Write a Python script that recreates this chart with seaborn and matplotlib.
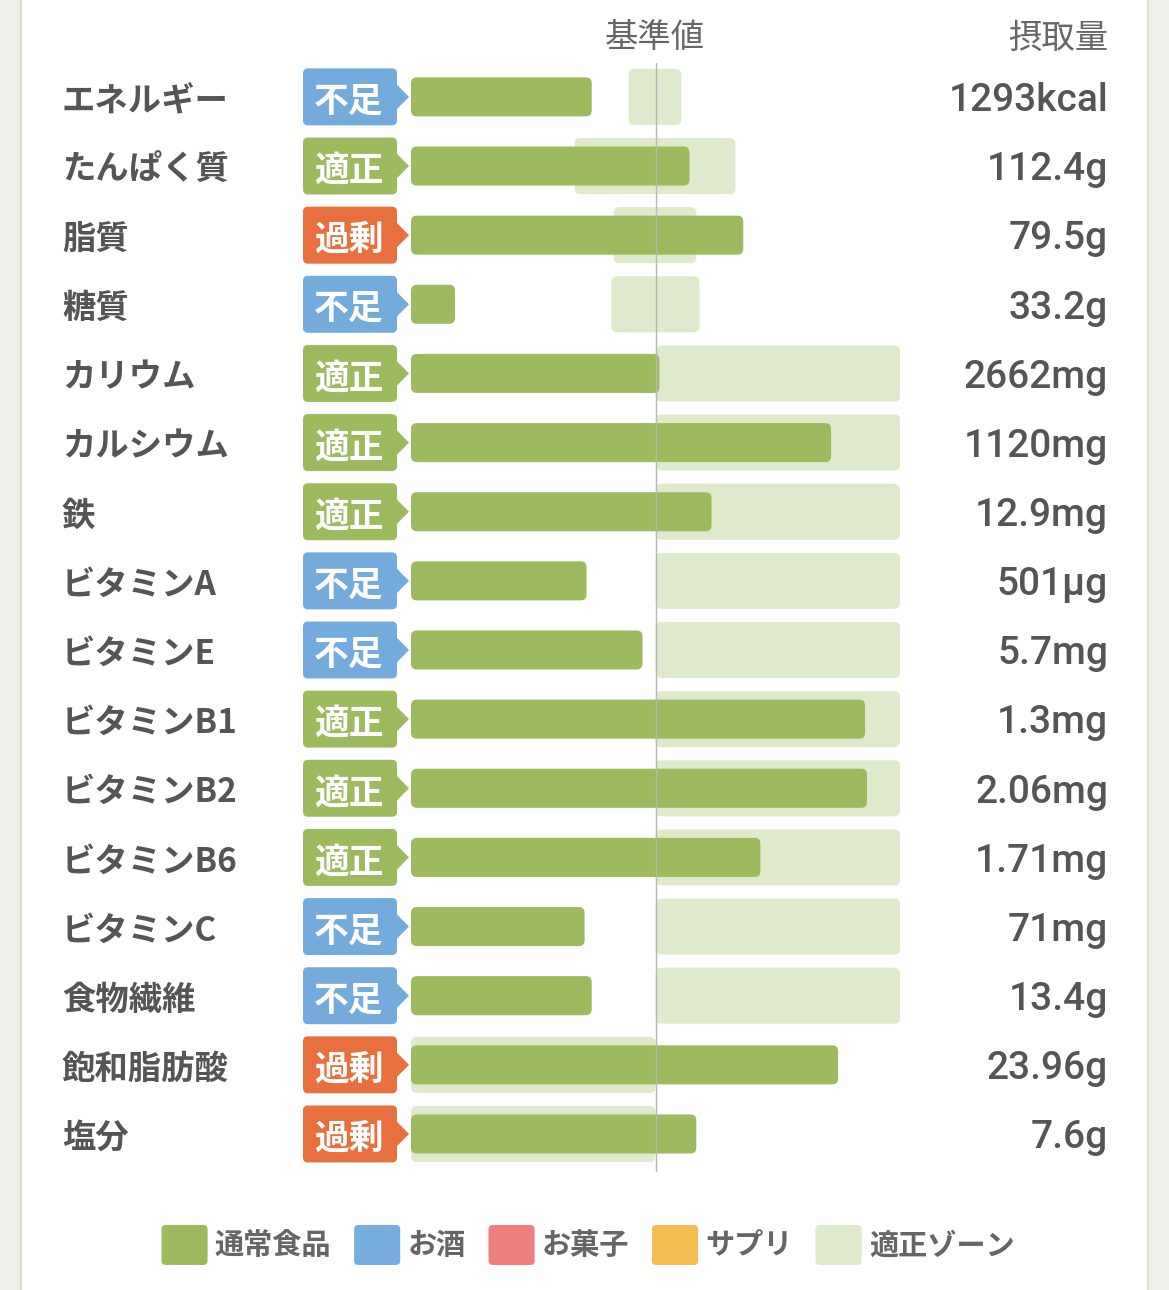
import matplotlib
matplotlib.use("Agg")
import matplotlib.pyplot as plt
import matplotlib.transforms as mtransforms
from matplotlib.patches import FancyBboxPatch, Polygon, Rectangle, Patch
from matplotlib.legend_handler import HandlerPatch
import pandas as pd
import seaborn as sns

# values, in % of the reference value (基準値 = 100)
nutrients = ["エネルギー", "たんぱく質", "脂質", "糖質", "カリウム", "カルシウム", "鉄",
             "ビタミンA", "ビタミンE", "ビタミンB1", "ビタミンB2", "ビタミンB6",
             "ビタミンC", "食物繊維", "飽和脂肪酸", "塩分"]
intake_pct = [73.9, 113.9, 135.9, 18.0, 101.6, 171.8, 122.9, 71.8,
              94.7, 185.7, 186.5, 142.9, 71.0, 73.9, 174.7, 116.7]
zone_low = [89.0, 66.9, 82.9, 82.0, 100, 100, 100, 100,
            100, 100, 100, 100, 100, 100, 0, 0]
zone_high = [110.6, 132.7, 116.7, 118.0, 200, 200, 200, 200,
             200, 200, 200, 200, 200, 200, 100, 100]
status = ["不足", "適正", "過剰", "不足", "適正", "適正", "適正", "不足",
          "不足", "適正", "適正", "適正", "不足", "不足", "過剰", "過剰"]
intake_text = ["1293kcal", "112.4g", "79.5g", "33.2g", "2662mg", "1120mg", "12.9mg", "501µg",
               "5.7mg", "1.3mg", "2.06mg", "1.71mg", "71mg", "13.4g", "23.96g", "7.6g"]
legend_labels = ["通常食品", "お酒", "お菓子", "サプリ", "適正ゾーン"]
legend_colors = ["#9dbb5e", "#78ade0", "#ee7f7c", "#f3bd52", "#dfe9cc"]

GREEN = "#9dbb5e"
ZONE = "#dfe9cc"
status_colors = {"不足": "#72abdc", "適正": "#9dbb5e", "過剰": "#e8703f"}
CJK = ["Noto Sans CJK JP", "DejaVu Sans"]
LATIN = ["Roboto", "DejaVu Sans"]

W, H = 1169, 1290
ROW_PX = 69.13
X_PX = 489 / 200
TXT_DY = 0.065  # nudge texts down a little so they sit in the row middle

sns.set_theme(style="white")
plt.rcParams["font.family"] = CJK

df = pd.DataFrame({"nutrient": nutrients, "pct": intake_pct})

fig = plt.figure(figsize=(W / 100, H / 100), dpi=100)
fig.patch.set_facecolor("#efefe9")

# overlay in pixel units for the card, texts and badges
overlay = fig.add_axes([0, 0, 1, 1], zorder=0)
overlay.set_xlim(0, W)
overlay.set_ylim(H, 0)
overlay.axis("off")
overlay.add_patch(Rectangle((21, -5), 1127, H + 10, fc="white", ec="#deded6", lw=1.5))

ax = fig.add_axes([411 / W, (H - 1172) / H, 489 / W, (1172 - 63) / H], zorder=1)
ax.patch.set_visible(False)

sns.barplot(data=df, x="pct", y="nutrient", orient="h", color=GREEN,
            saturation=1, width=0.565, ax=ax)

aspect = X_PX / ROW_PX
for bar in list(ax.patches):
    x0, y0, w, h = bar.get_x(), bar.get_y(), bar.get_width(), bar.get_height()
    bar.remove()
    ax.add_patch(FancyBboxPatch((x0, y0), w, h,
                                boxstyle="round,pad=0,rounding_size=2.4",
                                mutation_aspect=aspect, fc=GREEN, ec="none", zorder=3))

for i, (lo, hi) in enumerate(zip(zone_low, zone_high)):
    ax.add_patch(FancyBboxPatch((lo, i - 0.405), hi - lo, 0.81,
                                boxstyle="round,pad=0,rounding_size=2.4",
                                mutation_aspect=aspect, fc=ZONE, ec="none", zorder=2))

ax.axvline(100, color="#b8b8b8", lw=1, zorder=4)
ax.set_xlim(0, 200)
ax.set_ylim(15.55, -0.49)
ax.axis("off")

trans = mtransforms.blended_transform_factory(overlay.transData, ax.transData)

for i, (name, st, val) in enumerate(zip(nutrients, status, intake_text)):
    overlay.text(62, i + TXT_DY, name, transform=trans, ha="left", va="center",
                 fontsize=24, fontweight="bold", color="#555555", family=CJK)
    col = status_colors[st]
    overlay.add_patch(FancyBboxPatch((303, i - 0.412), 94, 0.824, transform=trans,
                                     boxstyle="round,pad=0,rounding_size=5",
                                     mutation_aspect=1 / ROW_PX, fc=col, ec="none",
                                     clip_on=False))
    overlay.add_patch(Polygon([(396, i - 0.19), (409, i), (396, i + 0.19)],
                              closed=True, transform=trans, fc=col, ec="none",
                              clip_on=False))
    overlay.text(349, i + TXT_DY, st, transform=trans, ha="center", va="center",
                 fontsize=25, fontweight="bold", color="white", family=CJK)
    overlay.text(1108, i + 0.055, val, transform=trans, ha="right", va="center",
                 fontsize=28, fontweight="medium", color="#555555", family=LATIN)

overlay.text(655, 38, "基準値", ha="center", va="center", fontsize=24,
             color="#666666", family=CJK)
overlay.text(1108, 38, "摂取量", ha="right", va="center", fontsize=24,
             color="#666666", family=CJK)


def rounded_key(legend, orig_handle, xdescent, ydescent, width, height, fontsize):
    return FancyBboxPatch((-xdescent, -ydescent), width, height,
                          boxstyle="round,pad=0,rounding_size=3")


handles = [Patch(fc=c, ec="none", label=l) for l, c in zip(legend_labels, legend_colors)]
fig.legend(handles=handles, loc="center", bbox_to_anchor=(588 / W, 1 - 1245 / H),
           bbox_transform=fig.transFigure, ncol=5, frameon=False,
           prop={"family": CJK, "weight": "bold", "size": 21}, labelcolor="#666666",
           handler_map={Patch: HandlerPatch(patch_func=rounded_key)},
           handlelength=1.58, handleheight=1.73, handletextpad=0.25, columnspacing=0.78)

fig.savefig("out.png", dpi=100, facecolor=fig.get_facecolor())
